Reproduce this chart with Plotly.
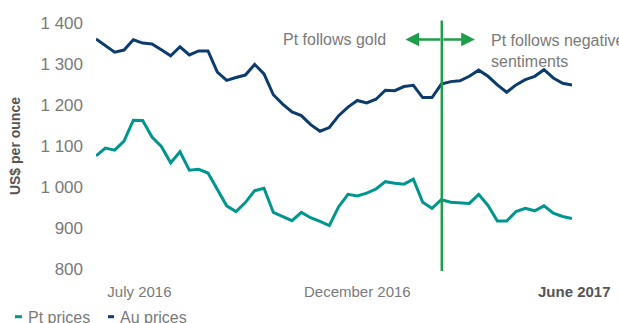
import plotly.graph_objects as go

# Weekly prices (US$ per ounce), June 2016 - May 2017
pt_prices = [1076, 1095, 1090, 1112, 1163, 1162, 1122, 1099, 1059, 1086, 1041, 1043, 1034,
             995, 954, 940, 962, 991, 997, 938, 928, 918, 938, 925, 916,
             906, 952, 982, 978, 985, 995, 1013, 1009, 1007, 1019, 963, 948, 969,
             963, 962, 960, 982, 955, 917, 917, 940, 948, 942, 954, 936, 928, 923]
au_prices = [1361, 1345, 1329, 1334, 1359, 1351, 1349, 1335, 1320, 1342, 1322, 1332, 1332,
             1280, 1260, 1267, 1273, 1299, 1276, 1225, 1202, 1183, 1174, 1152, 1136,
             1145, 1174, 1195, 1211, 1205, 1214, 1236, 1235, 1245, 1248, 1218, 1218, 1251,
             1257, 1259, 1270, 1285, 1270, 1249, 1231, 1249, 1262, 1270, 1286, 1266, 1253, 1249]
weeks = list(range(len(pt_prices)))

x_tick_pos = [4.65, 28.0]
x_tick_text = ["July 2016", "December 2016"]
last_label_pos = 51.25
last_label_text = "<b>June 2017</b>"
y_tick_vals = [800, 900, 1000, 1100, 1200, 1300, 1400]
y_tick_text = ["800", "900", "1 000", "1 100", "1 200", "1 300", "1 400"]

split_week = 37.05
arrow_left_week = 33.15
arrow_right_week = 40.6
arrow_y = 1360

PT_COLOR = "#00968f"
AU_COLOR = "#0c3c6e"
GREEN = "#1e9e4a"
GREY = "#7a7a7a"
FONT = "Liberation Sans"

W, H = 619, 323
L, R, T, B = 96, 47, 23, 54
pw, ph = W - L - R, H - T - B
X_MAX = len(weeks) - 1

fig = go.Figure()
fig.add_trace(go.Scatter(x=weeks, y=pt_prices, mode="lines", name="Pt prices",
                         line=dict(color=PT_COLOR, width=3), showlegend=False))
fig.add_trace(go.Scatter(x=weeks, y=au_prices, mode="lines", name="Au prices",
                         line=dict(color=AU_COLOR, width=3), showlegend=False))

# vertical divider
fig.add_shape(type="line", xref="x", yref="paper", x0=split_week, x1=split_week,
              y0=-0.008, y1=1.01, line=dict(color=GREEN, width=2.5))

# double arrow
for target in (arrow_left_week, arrow_right_week):
    fig.add_annotation(x=target, y=arrow_y, ax=split_week, ay=arrow_y,
                       xref="x", yref="y", axref="x", ayref="y",
                       showarrow=True, arrowhead=2, arrowsize=1.1, arrowwidth=2.5,
                       arrowcolor=GREEN, text="")

fig.add_annotation(x=arrow_left_week - 1.9, y=arrow_y, xref="x", yref="y",
                   text="Pt follows gold", showarrow=False, xanchor="right", yanchor="middle",
                   font=dict(family=FONT, size=16, color=GREY))
fig.add_annotation(x=arrow_right_week + 1.55, y=1383, xref="x", yref="y",
                   text="Pt follows negative<br>sentiments", showarrow=False,
                   xanchor="left", yanchor="top", align="left",
                   font=dict(family=FONT, size=16, color=GREY))

# last x label (bold, at the final week) - placed in paper coords so it is not hidden
fig.add_annotation(x=last_label_pos / X_MAX, y=(H - B - 291) / ph, xref="paper", yref="paper",
                   text=last_label_text, showarrow=False, xanchor="center", yanchor="middle",
                   font=dict(family=FONT, size=15, color="#555555"))

# y-axis title
fig.add_annotation(x=-0.17, y=0.5, xref="paper", yref="paper", text="<b>US$ per ounce</b>",
                   textangle=-90, showarrow=False, xanchor="center", yanchor="middle",
                   font=dict(family=FONT, size=14, color="#555555"))

# custom legend
legend_items = [("Pt prices", PT_COLOR, 15, 22, 26), ("Au prices", AU_COLOR, 108, 114, 118)]
for name, color, x0, x1, tx in legend_items:
    fig.add_shape(type="line", xref="paper", yref="paper",
                  x0=(x0 - L) / pw, x1=(x1 - L) / pw,
                  y0=(H - B - 316.7) / ph, y1=(H - B - 316.7) / ph,
                  line=dict(color=color, width=3))
    fig.add_annotation(x=(tx - L) / pw, y=(H - B - 317.5) / ph, xref="paper", yref="paper",
                       text=name, showarrow=False, xanchor="left", yanchor="middle",
                       font=dict(family=FONT, size=16, color=GREY))

fig.update_layout(
    width=W, height=H,
    margin=dict(l=L, r=R, t=T, b=B, pad=0),
    paper_bgcolor="white", plot_bgcolor="white",
    showlegend=False,
    xaxis=dict(range=[0, X_MAX], showgrid=False, zeroline=False, showline=False,
               tickmode="array", tickvals=x_tick_pos, ticktext=x_tick_text,
               ticks="", ticklabelstandoff=12,
               tickfont=dict(family=FONT, size=15, color=GREY)),
    yaxis=dict(range=[800, 1400], showgrid=False, zeroline=False, showline=False,
               tickmode="array", tickvals=y_tick_vals, ticktext=y_tick_text,
               ticks="", ticklabelstandoff=12,
               tickfont=dict(family=FONT, size=17, color=GREY)),
)

fig.write_html("out.html", config={"displayModeBar": False},
               post_script="document.body.style.margin='0';")
